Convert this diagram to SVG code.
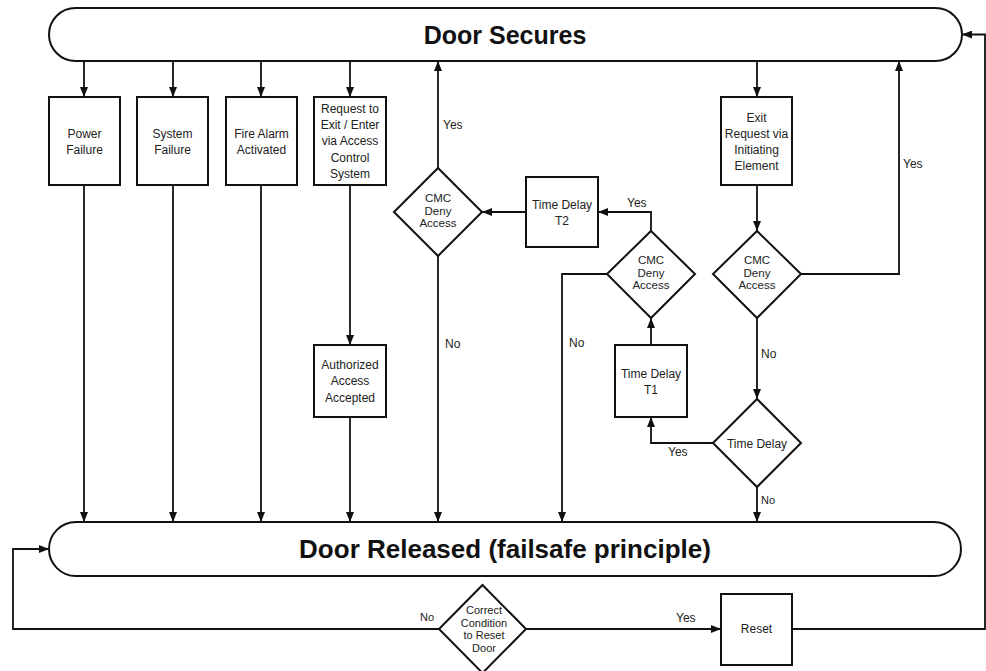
<svg xmlns="http://www.w3.org/2000/svg" width="986" height="671" viewBox="0 0 986 671">
<defs>
<marker id="ah" viewBox="0 0 10 8" refX="10" refY="4" markerWidth="10" markerHeight="8" orient="auto" markerUnits="userSpaceOnUse"><path d="M0,0 L10,4 L0,8 z" fill="#111"/></marker>
<style>
.shape{fill:#fff;stroke:#111;stroke-width:2}
.conn{fill:none;stroke:#111;stroke-width:1.8;marker-end:url(#ah)}
.t{font-family:"Liberation Sans",Arial,sans-serif;font-size:12px;fill:#222;text-anchor:middle}
.d{font-family:"Liberation Sans",Arial,sans-serif;font-size:11.5px;fill:#222;text-anchor:middle}
.s{font-family:"Liberation Sans",Arial,sans-serif;font-size:11px;fill:#222;text-anchor:middle}
.lbl{font-family:"Liberation Sans",Arial,sans-serif;font-size:12px;fill:#222}
.big{font-family:"Liberation Sans",Arial,sans-serif;font-weight:bold;fill:#111;text-anchor:middle}
</style>
</defs>
<rect width="986" height="671" fill="#fff"/>
<g id="connectors">
<path class="conn" d="M84,61 V97"/>
<path class="conn" d="M173,61 V97"/>
<path class="conn" d="M261,61 V97"/>
<path class="conn" d="M350,61 V97"/>
<path class="conn" d="M757,61 V97"/>
<path class="conn" d="M84,185 V522"/>
<path class="conn" d="M173,185 V522"/>
<path class="conn" d="M261,185 V522"/>
<path class="conn" d="M350,185 V345"/>
<path class="conn" d="M350,417 V522"/>
<path class="conn" d="M438,168 V61"/>
<path class="conn" d="M438,256 V522"/>
<path class="conn" d="M526,212 H482"/>
<path class="conn" d="M651,231 V212 H598"/>
<path class="conn" d="M607,274 H562 V522"/>
<path class="conn" d="M651,345 V318"/>
<path class="conn" d="M713,443 H651 V417"/>
<path class="conn" d="M757,487 V522"/>
<path class="conn" d="M757,185 V231"/>
<path class="conn" d="M801,274 H899 V61"/>
<path class="conn" d="M757,318 V399"/>
<path class="conn" d="M439,629 H13 V549 H49"/>
<path class="conn" d="M526,629 H721"/>
<path class="conn" d="M792,629 H985 V34.5 H962"/>
<text class="lbl" x="443" y="129">Yes</text>
<text class="lbl" x="445" y="348">No</text>
<text class="lbl" x="627" y="207">Yes</text>
<text class="lbl" x="569" y="347">No</text>
<text class="lbl" x="668" y="456">Yes</text>
<text class="lbl" x="761" y="358">No</text>
<text class="lbl" x="761" y="504" style="font-size:11px">No</text>
<text class="lbl" x="903" y="168">Yes</text>
<text class="lbl" x="420" y="621" style="font-size:11px">No</text>
<text class="lbl" x="676" y="622">Yes</text>
</g>
<g id="door-secures">
<rect class="shape" x="49" y="8" width="913" height="53" rx="26.5"/>
<text class="big" x="505" y="44" font-size="25">Door Secures</text>
</g>
<g id="power-failure">
<rect class="shape" x="49" y="97" width="71" height="88"/>
<text class="t" x="84.5" y="137.5">Power</text>
<text class="t" x="84.5" y="153.5">Failure</text>
</g>
<g id="system-failure">
<rect class="shape" x="137" y="97" width="71" height="88"/>
<text class="t" x="172.5" y="137.5">System</text>
<text class="t" x="172.5" y="153.5">Failure</text>
</g>
<g id="fire-alarm">
<rect class="shape" x="226" y="97" width="71" height="88"/>
<text class="t" x="261.5" y="137.5">Fire Alarm</text>
<text class="t" x="261.5" y="153.5">Activated</text>
</g>
<g id="request">
<rect class="shape" x="314" y="97" width="72" height="88"/>
<text class="t" x="350" y="112.5">Request to</text>
<text class="t" x="350" y="128.5">Exit / Enter</text>
<text class="t" x="350" y="145">via Access</text>
<text class="t" x="350" y="161.5">Control</text>
<text class="t" x="350" y="178">System</text>
</g>
<g id="authorized">
<rect class="shape" x="314" y="345" width="72" height="72"/>
<text class="t" x="350" y="368.5">Authorized</text>
<text class="t" x="350" y="385">Access</text>
<text class="t" x="350" y="401.5">Accepted</text>
</g>
<g id="cmc-1">
<path class="shape" d="M438,168 L482,212 L438,256 L394,212 z"/>
<text class="d" x="438" y="202">CMC</text>
<text class="d" x="438" y="215">Deny</text>
<text class="d" x="438" y="227">Access</text>
</g>
<g id="time-delay-t2">
<rect class="shape" x="526" y="177" width="72" height="70"/>
<text class="t" x="562" y="208.5">Time Delay</text>
<text class="t" x="562" y="224.5">T2</text>
</g>
<g id="cmc-2">
<path class="shape" d="M651,231 L695,274 L651,318 L607,274 z"/>
<text class="d" x="651" y="264">CMC</text>
<text class="d" x="651" y="277">Deny</text>
<text class="d" x="651" y="289">Access</text>
</g>
<g id="time-delay-t1">
<rect class="shape" x="615" y="345" width="72" height="72"/>
<text class="t" x="651" y="377.5">Time Delay</text>
<text class="t" x="651" y="393.5">T1</text>
</g>
<g id="exit-request">
<rect class="shape" x="721" y="97" width="71" height="88"/>
<text class="t" x="756.5" y="121.5">Exit</text>
<text class="t" x="756.5" y="137.5">Request via</text>
<text class="t" x="756.5" y="153.5">Initiating</text>
<text class="t" x="756.5" y="169.5">Element</text>
</g>
<g id="cmc-3">
<path class="shape" d="M757,231 L801,274 L757,318 L713,274 z"/>
<text class="d" x="757" y="264">CMC</text>
<text class="d" x="757" y="277">Deny</text>
<text class="d" x="757" y="289">Access</text>
</g>
<g id="time-delay">
<path class="shape" d="M757,399 L801,443 L757,487 L713,443 z"/>
<text class="t" x="757" y="447.5">Time Delay</text>
</g>
<g id="door-released">
<rect class="shape" x="49" y="522" width="912" height="54" rx="27"/>
<text class="big" x="505" y="558" font-size="26">Door Released (failsafe principle)</text>
</g>
<g id="correct-condition">
<path class="shape" d="M482.5,585 L526,629 L482.5,673 L439,629 z"/>
<text class="s" x="484" y="613.5">Correct</text>
<text class="s" x="484" y="626.5">Condition</text>
<text class="s" x="484" y="638.5">to Reset</text>
<text class="s" x="484" y="651.5">Door</text>
</g>
<g id="reset">
<rect class="shape" x="721" y="594" width="71" height="71"/>
<text class="t" x="756.5" y="633">Reset</text>
</g>
</svg>
